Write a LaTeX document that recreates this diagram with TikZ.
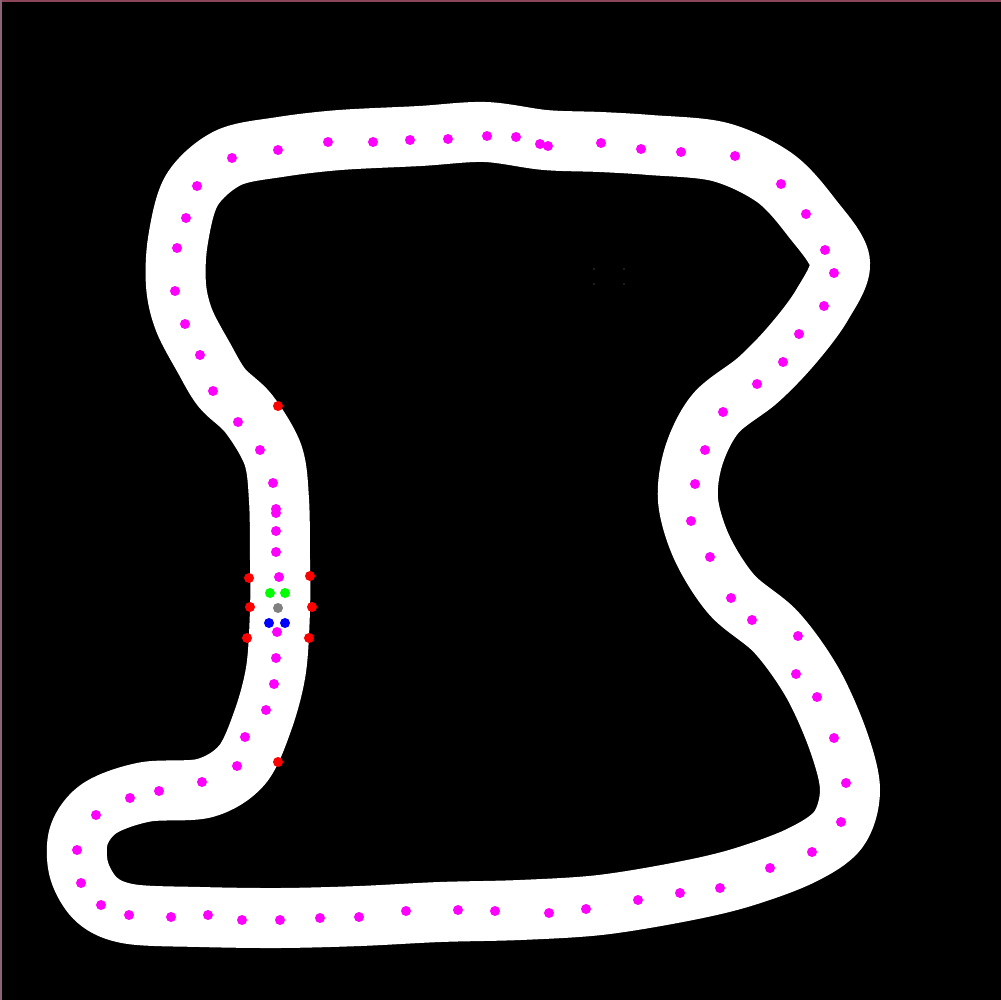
\documentclass[tikz,border=0pt]{standalone}
\definecolor{cmag}{RGB}{255,0,255}
\definecolor{cred}{RGB}{255,0,0}
\definecolor{cgrn}{RGB}{0,255,0}
\definecolor{cblu}{RGB}{0,0,255}
\definecolor{cgry}{RGB}{128,128,128}
\definecolor{ctop}{RGB}{140,70,90}
\definecolor{cleft}{RGB}{140,100,120}
\begin{document}
\begin{tikzpicture}[x=1pt,y=-1pt,
  mag/.style={fill=cmag},
  reddot/.style={fill=cred},
  grn/.style={fill=cgrn},
  blu/.style={fill=cblu},
  gry/.style={fill=cgry}]
\fill[black] (0,0) rectangle (1001,1000);
\useasboundingbox (0,0) rectangle (1001,1000);
\draw[ctop,line width=2pt] (0,1) -- (1001,1);
\draw[cleft,line width=1.5pt] (0.75,0) -- (0.75,1000);
% track
\draw[white,line width=60pt,line join=round] plot[smooth cycle,tension=0.55] coordinates {
(178,240) (192,190) (228,158) (280,147) (340,140) (420,136) (485,132) (545,140)
(600,142) (650,145) (720,152) (775,178) (812,218) (840,262) (822,305) (792,345)
(758,380) (716,413) (694,455) (688,500) (702,548) (732,595) (776,632) (812,682)
(838,740) (850,790) (838,830) (800,856) (740,878) (680,892) (600,905) (520,910)
(440,912) (360,916) (280,918) (200,917) (130,914) (97,900) (79,870) (79,835)
(100,808) (145,792) (205,788) (242,765) (263,720) (276,670) (280,610) (280,560)
(279,500) (273,455) (249,414) (222,388) (204,358) (184,320) (176,285)};
% magenta dots
\foreach \p in {(232,158),(278,150),(328,142),(373,142),(410,140),(448,139),(487,136),(516,137),(540,144),(548,146),(601,143),(641,149),(681,152),(735,156),(781,184),(806,214),(825,250),(834,273),(824,306),(799,334),(783,362),(757,384),(723,412),(705,450),(695,484),(691,521),(710,557),(731,598),(752,620),(798,636),(796,674),(817,697),(834,738),(846,783),(841,822),(812,852),(770,868),(720,888),(680,893),(638,900),(586,909),(549,913),(495,911),(458,910),(406,911),(359,917),(320,918),(280,920),(242,920),(208,915),(171,917),(129,915),(101,905),(81,883),(77,850),(96,815),(130,798),(159,791),(202,782),(237,766),(245,737),(266,710),(274,684),(276,658),(277,632),(279,577),(276,552),(276,531),(276,513),(276,509),(273,483),(260,450),(238,422),(213,391),(200,355),(185,324),(175,291),(177,248),(186,218),(197,186)}
  \fill[mag] \p circle (5);
% red markers
\foreach \p in {(278,406),(249,578),(310,576),(250,607),(312,607),(247,638),(309,638),(278,762)}
  \fill[reddot] \p circle (5);
\fill[grn] (270,593) circle (5);
\fill[grn] (285,593) circle (5);
\fill[gry] (278,608) circle (5);
\fill[blu] (269,623) circle (5);
\fill[blu] (285,623) circle (5);
\foreach \p in {(594,269),(624,269),(594,284),(624,284)}
  \fill[gray] \p circle (0.6);
\end{tikzpicture}
\end{document}
